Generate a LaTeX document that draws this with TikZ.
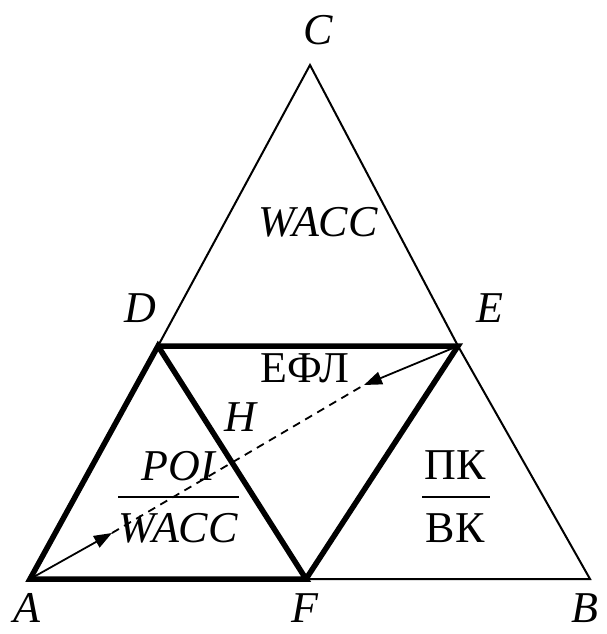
\documentclass[tikz,border=0pt]{standalone}
\usepackage{fontspec}
\setmainfont{Liberation Serif}
\usetikzlibrary{arrows.meta}
\begin{document}
\begin{tikzpicture}[x=1pt,y=-1pt,
  thinline/.style={line width=2pt},
  thickline/.style={line width=5.5pt},
  arrowline/.style={line width=1.8pt,-{Triangle[length=18pt,width=13pt]}},
  dashline/.style={line width=1.8pt,dash pattern=on 8pt off 6pt},
  lbl/.style={inner sep=0pt,font=\fontsize{44}{50}\selectfont\itshape},
  txt/.style={inner sep=0pt,font=\fontsize{44}{50}\selectfont}]
\useasboundingbox (0,0) rectangle (607,634);
\coordinate (A) at (30,579);
\coordinate (B) at (590,579);
\coordinate (C) at (310,65);
\coordinate (D) at (158,346);
\coordinate (E) at (458,346);
\coordinate (F) at (306,579);
\coordinate (P1) at (112,533);
\coordinate (P2) at (364,385);
% thin outer lines
\draw[thinline] (D) -- (C) -- (E) -- (B) -- (F);
% thick inner triangles
\draw[thickline] (A) -- (D) -- (F) -- cycle;
\draw[thickline] (D) -- (E) -- (F);
% arrows and dashed line
\draw[arrowline] (A) -- (P1);
\draw[arrowline] (E) -- (P2);
\draw[dashline] (P1) -- (P2);
% vertex labels
\node[lbl] (lC) at (318,30) {C};
\node[lbl] (lD) at (140,308) {D};
\node[lbl] (lE) at (490,308) {E};
\node[lbl] (lA) at (27,608) {A};
\node[lbl] (lF) at (305,608) {F};
\node[lbl] (lB) at (585,608) {B};
\node[lbl] (lH) at (240,417) {H};
% region labels
\node[lbl] (w1) at (318,222) {WACC};
\node[txt] (efl) at (305,368) {ЕФЛ};
\node[lbl] (poi) at (178,466) {POI};
\node[lbl] (w2) at (178,528) {WACC};
\draw[line width=1.4pt] (118,497) coordinate (f1a) -- (239,497) coordinate (f1b);
\node[txt] (pk) at (455,465) {ПК};
\node[txt] (vk) at (455,528) {ВК};
\draw[line width=1.4pt] (422,497) coordinate (f2a) -- (490,497) coordinate (f2b);
\end{tikzpicture}
\end{document}
